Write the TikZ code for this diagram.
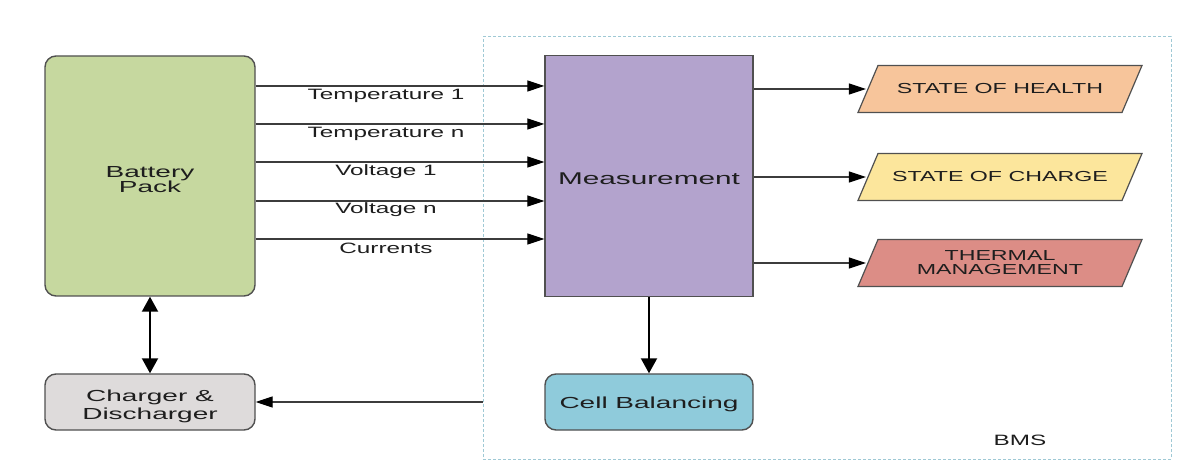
\documentclass[tikz,border=0pt]{standalone}
\usepackage{fontspec}
\setmainfont{Liberation Sans}[FakeStretch=1.5]
\newfontfamily\boxfont{Liberation Sans}[FakeStretch=1.75]
\newfontfamily\lblfont{Liberation Sans}[FakeStretch=1.62]
\newfontfamily\parafont{Liberation Sans}[FakeStretch=1.6]
\usetikzlibrary{arrows.meta}
\definecolor{txt}{HTML}{1E1E1E}
\definecolor{edge}{HTML}{505050}
\definecolor{wire}{HTML}{3C3C3C}
\definecolor{battfill}{HTML}{C6D89F}
\definecolor{measfill}{HTML}{B3A3CD}
\definecolor{sohfill}{HTML}{F7C59B}
\definecolor{socfill}{HTML}{FCE69C}
\definecolor{thermfill}{HTML}{DC8D86}
\definecolor{cellfill}{HTML}{8FCBDB}
\definecolor{chgfill}{HTML}{DEDBDB}
\definecolor{bmsedge}{HTML}{9FC9D5}
\tikzset{
  box/.style={draw=edge, line width=1.4pt, text=txt, align=center, inner sep=0pt},
  rbox/.style={box, rounded corners=11pt},
  paratext/.style={text=txt, align=center, inner sep=0pt,
    minimum width=264pt, minimum height=47pt,
    font=\parafont\fontsize{14.5}{14.5}\selectfont},
  paraline/.style={draw=edge, line width=1.2pt},
  sig/.style={draw=wire, line width=1.1pt, -{Triangle[length=17pt,width=11pt,color=black]}},
  bold/.style={draw=black, line width=2pt, -{Triangle[length=15pt,width=16pt]}},
  lbl/.style={text=txt, inner sep=0pt, font=\lblfont\fontsize{15}{15}\selectfont},
  bmsbox/.style={draw=bmsedge, line width=1pt, dash pattern=on 3pt off 2pt, inner sep=0pt}
}
\begin{document}
\begin{tikzpicture}[x=1pt,y=-1pt]
\useasboundingbox[fill=white] (0,0) rectangle (1184,462);
% BMS container
\node[bmsbox, minimum width=688pt, minimum height=422pt] (bms) at (827,248) {};
\node[lbl] (bmslbl) at (1020,440) {BMS};
% main blocks
\node[rbox, fill=battfill, minimum width=210pt, minimum height=240pt,
      font=\boxfont\fontsize{16}{15}\selectfont] (bat) at (150,176) {\rule{0pt}{17.5pt}Battery\\Pack};
\node[box, fill=measfill, minimum width=208pt, minimum height=241pt,
      font=\boxfont\fontsize{17}{17}\selectfont] (meas) at (649,176) {\rule{0pt}{18pt}Measurement};
\node[rbox, fill=cellfill, minimum width=208pt, minimum height=56pt,
      font=\boxfont\fontsize{16}{16}\selectfont] (cell) at (649,402) {\rule{0pt}{17pt}Cell Balancing};
\node[rbox, fill=chgfill, minimum width=210pt, minimum height=56pt,
      font=\boxfont\fontsize{16}{18}\selectfont] (chg) at (150,402) {\rule{0pt}{20pt}Charger \&\\Discharger};
% outputs (parallelograms)
\foreach \n/\c/\yy in {soh/sohfill/89, soc/socfill/177, therm/thermfill/263}{
  \path[paraline, fill=\c] (850,\yy) ++(8,23.5) -- ++(20,-47) -- ++(264,0) -- ++(-20,47) -- cycle;
}
\node[paratext] (soh) at (1000,89) {STATE OF HEALTH};
\node[paratext] (soc) at (1000,177) {STATE OF CHARGE};
\node[paratext, font=\parafont\fontsize{14.5}{14}\selectfont] (therm) at (1000,263) {THERMAL\\MANAGEMENT};
% signals
\draw[sig] ([yshift=90pt]bat.east) -- ([yshift=90pt]meas.west);
\draw[sig] ([yshift=52pt]bat.east) -- ([yshift=52pt]meas.west);
\draw[sig] ([yshift=14pt]bat.east) -- ([yshift=14pt]meas.west);
\draw[sig] ([yshift=-25pt]bat.east) -- ([yshift=-25pt]meas.west);
\draw[sig] ([yshift=-63pt]bat.east) -- ([yshift=-63pt]meas.west);
\node[lbl] (l1) at (386,96) {Temperature 1};
\node[lbl] (l2) at (386,134) {Temperature n};
\node[lbl] (l3) at (386,172) {Voltage 1};
\node[lbl] (l4) at (386,210) {Voltage n};
\node[lbl] (l5) at (386,248) {Currents};
% output arrows
\draw[sig] (meas.east |- soh.west) -- ([xshift=-2pt]soh.west);
\draw[sig] (meas.east |- soc.west) -- ([xshift=-2pt]soc.west);
\draw[sig] (meas.east |- therm.west) -- ([xshift=-2pt]therm.west);
% vertical
\draw[bold] (meas.south) -- (cell.north);
\draw[bold, {Triangle[length=15pt,width=16pt]}-{Triangle[length=15pt,width=16pt]}] (bat.south) -- (chg.north);
% BMS to charger
\draw[sig] (bms.west |- chg.east) -- (chg.east);
\end{tikzpicture}
\end{document}
